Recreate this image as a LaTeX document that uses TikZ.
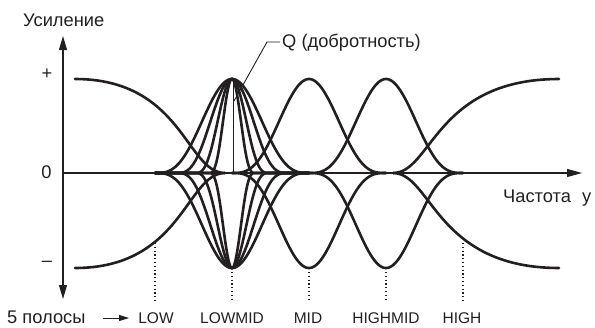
\documentclass[tikz,border=0pt]{standalone}
\usepackage{fontspec}
\setmainfont{Liberation Sans}
\usetikzlibrary{arrows.meta}
\definecolor{ink}{HTML}{231F20}
\newcommand\bellcurve[4]{% start, end, center, signed amplitude; width scale in \bs
  \draw[curve] plot[domain=#1:#2, samples=241, variable=\t]
   (\t, {173-(#4)*((1+cos(180*min(abs(\t-#3)/(77*\bs),1)))/2)*sqrt((1+cos(180*min(abs(\t-#3)/(77*\bs),1)))/2)});}
\begin{document}
\begin{tikzpicture}[x=1pt,y=-1pt,
  curve/.style={line width=2.6pt, draw=ink, line join=round, line cap=round},
  axisline/.style={line width=1.1pt, draw=ink},
  thinline/.style={line width=0.9pt, draw=ink},
  dots/.style={line width=1.3pt, draw=ink, dash pattern=on 1.2pt off 2.6pt},
  lbl/.style={font=\fontsize{15.5}{18}\selectfont, text=ink, inner sep=0pt},
  rus/.style={font=\fontsize{18.3}{20}\selectfont, text=ink, inner sep=0pt}]
\useasboundingbox (0,0) rectangle (595,327);
% axes
\coordinate (O) at (63,173);
\coordinate (ytop) at (63,36);
\coordinate (ybot) at (63,299);
\coordinate (xend) at (582,173);
\draw[axisline, {Triangle[length=14pt,width=8pt]}-{Triangle[length=14pt,width=8pt]}] (ybot) -- (ytop);
\draw[axisline, -{Triangle[length=15pt,width=8pt]}] (O) -- (xend);
% shelves
\coordinate (ls1) at (75,79);  \coordinate (ls2) at (225,173);
\coordinate (ls3) at (75,268);
\coordinate (rs1) at (559,79); \coordinate (rs2) at (393,173);
\coordinate (rs3) at (559,268);
\draw[curve] (ls1) .. controls (182.6,79) and (186.4,173) .. (ls2);
\draw[curve] (ls3) .. controls (182.6,268) and (186.4,173) .. (ls2);
\draw[curve] (rs1) .. controls (435.4,79) and (431.6,173) .. (rs2);
\draw[curve] (rs3) .. controls (435.4,268) and (431.6,173) .. (rs2);
% bells
\foreach \bs in {1,0.72,0.48,0.3}{
  \bellcurve{155}{309}{232}{94}
  \bellcurve{155}{309}{232}{-95}
}
\def\bs{1}
\bellcurve{232}{386}{309}{94}
\bellcurve{232}{386}{309}{-95}
\bellcurve{309}{463}{386}{94}
\bellcurve{309}{463}{386}{-95}
% Q pointer
\coordinate (qtop) at (233,79);
\coordinate (qbase) at (233,173);
\draw[thinline] (qtop) -- (qbase);
\node[rus, anchor=base west] (qlbl) at (282,47) {Q (добротность)};
\coordinate (qtip) at (234,101);
\coordinate (qknee) at (267,42);
\coordinate (qend) at (280,42);
\draw[thinline] (qtip) -- (qknee) -- (qend);
% dotted markers
\foreach \x/\y [count=\i] in {155/243, 232/272, 309/272, 386/272, 463/243}{
  \coordinate (d\i a) at (\x,\y);
  \coordinate (d\i b) at (\x,302);
  \draw[dots] (d\i a) -- (d\i b);
}
% labels
\node[rus, anchor=base west] (usil) at (23,26) {Усиление};
\node[rus] (plus) at (47,74) {+};
\node[rus] (zero) at (46.5,172) {0};
\node[rus] (minus) at (47,264) {–};
\node[rus, anchor=base west] (freq) at (503,202) {Частота};
\node[rus, anchor=base west] (yy) at (582,202) {у};
\node[rus, anchor=base west] (polosy) at (7,323) {5 полосы};
\coordinate (a1) at (103,318);
\coordinate (a2) at (129,318);
\draw[thinline, -{Triangle[length=10pt,width=6pt]}] (a1) -- (a2);
\node[lbl, anchor=base] (low) at (156,323) {LOW};
\node[lbl, anchor=base] (lowmid) at (232,323) {LOWMID};
\node[lbl, anchor=base] (mid) at (308,323) {MID};
\node[lbl, anchor=base] (highmid) at (386,323) {HIGHMID};
\node[lbl, anchor=base] (high) at (462,323) {HIGH};
\end{tikzpicture}
\end{document}
